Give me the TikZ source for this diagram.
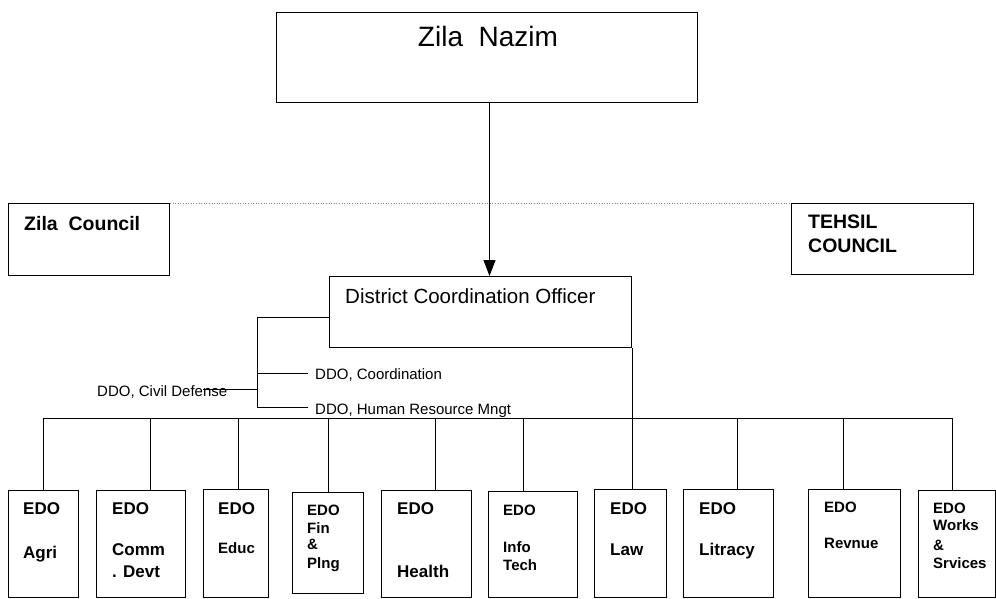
\documentclass[tikz,border=0pt]{standalone}
\usepackage{fontspec}
\setmainfont{Liberation Sans}
\usetikzlibrary{arrows.meta}
\begin{document}
\begin{tikzpicture}[x=1pt,y=-1pt,
  box/.style={draw, line width=1pt, inner sep=0pt, anchor=north west},
  link/.style={line width=0.9pt},
  lbl/.style={inner sep=0pt, anchor=base west},
  edo/.style={lbl, font=\bfseries\fontsize{17}{20}\selectfont},
  edos/.style={lbl, font=\bfseries\fontsize{15}{18}\selectfont},
  ddo/.style={lbl, font=\fontsize{15}{17}\selectfont},
]
\useasboundingbox (0,0) rectangle (996,598);

% top level boxes
\node[box, minimum width=421pt, minimum height=90pt] (nazim) at (276,12) {};
\node[box, minimum width=161pt, minimum height=72pt] (zc) at (8,203) {};
\node[box, minimum width=182pt, minimum height=71pt] (tc) at (791,203) {};
\node[box, minimum width=302pt, minimum height=71pt] (dco) at (329,276) {};

\node[inner sep=0pt, anchor=base, font=\fontsize{28}{30}\selectfont] (nazimt) at (488,46) {Zila~~Nazim};
\node[lbl, font=\bfseries\fontsize{19.5}{22}\selectfont] (zct) at (24,230) {Zila~~Council};
\node[lbl, font=\bfseries\fontsize{19.5}{22}\selectfont] (tct1) at (808,228) {TEHSIL};
\node[lbl, font=\bfseries\fontsize{19.5}{22}\selectfont] (tct2) at (808,252) {COUNCIL};
\node[lbl, font=\fontsize{20.5}{23}\selectfont] (dcot) at (345,303) {District Coordination Officer};

% EDO boxes
\node[box, minimum width=70pt, minimum height=106.5pt] (agri) at (8,490) {};
\node[box, minimum width=89pt, minimum height=106.5pt] (comm) at (96,490) {};
\node[box, minimum width=65pt, minimum height=107.5pt] (educ) at (203,489) {};
\node[box, minimum width=71pt, minimum height=101pt] (fin) at (292,492) {};
\node[box, minimum width=90pt, minimum height=106.5pt] (health) at (381,490) {};
\node[box, minimum width=89pt, minimum height=105.5pt] (info) at (488,491) {};
\node[box, minimum width=72pt, minimum height=107.5pt] (law) at (594,489) {};
\node[box, minimum width=90pt, minimum height=107.5pt] (litr) at (683,489) {};
\node[box, minimum width=92pt, minimum height=107.5pt] (rev) at (808,489) {};
\node[box, minimum width=77pt, minimum height=106.5pt] (works) at (918,490) {};

% EDO labels
\node[edo] (agri1) at (23,514) {EDO};
\node[edo] (agri2) at (23,558) {Agri};
\node[edo] (comm1) at (112,514) {EDO};
\node[edo] (comm2) at (112,555) {Comm};
\node[edo] (comm3) at (112,577) {. Devt};
\node[edo] (educ1) at (218,514) {EDO};
\node[edos] (educ2) at (218,553) {Educ};
\node[edos] (fin1) at (307,515) {EDO};
\node[edos] (fin2) at (307,533) {Fin};
\node[edos] (fin3) at (307,549) {\&};
\node[edos] (fin4) at (307,568) {Plng};
\node[edo] (health1) at (397,514) {EDO};
\node[edo] (health2) at (397,577) {Health};
\node[edos] (info1) at (503,515) {EDO};
\node[edos] (info2) at (503,552) {Info};
\node[edos] (info3) at (503,570) {Tech};
\node[edo] (law1) at (610,514) {EDO};
\node[edo] (law2) at (610,555) {Law};
\node[edo] (litr1) at (699,514) {EDO};
\node[edo] (litr2) at (699,555) {Litracy};
\node[edos] (rev1) at (824,512) {EDO};
\node[edos] (rev2) at (824,548) {Revnue};
\node[edos] (works1) at (933,513) {EDO};
\node[edos] (works2) at (933,530) {Works};
\node[edos] (works3) at (933,550) {\&};
\node[edos] (works4) at (933,568) {Srvices};

% DDO labels
\node[ddo] (ddoc) at (315,379) {DDO, Coordination};
\node[ddo] (ddocd) at (97,396) {DDO, Civil Defense};
\node[ddo] (ddoh) at (315,414) {DDO, Human Resource Mngt};

% connectors
\draw[link, -{Triangle[length=16pt,width=12pt]}] ([xshift=2.5pt]nazim.south) -- ([xshift=2.5pt]nazim.south |- dco.north);
\draw[gray, dotted, line width=0.6pt] (zc.north east) -- (tc.north west);

\coordinate (cl) at (257,317);
\coordinate (jc) at (257,373);
\coordinate (jd) at (257,389);
\coordinate (jh) at (257,407);
\coordinate (ec) at (308,373);
\coordinate (ed) at (203,389);
\coordinate (eh) at (308,407);
\draw[link] (dco.west |- cl) -- (cl) -- (jh) -- (eh);
\draw[link] (jc) -- (ec);
\draw[link] (jd) -- (ed);

% bus to the EDO boxes
\coordinate (busl) at (43,418);
\coordinate (busr) at (952,418);
\draw[link] (busl) -- (busr);
\foreach \n/\x in {agri/43, comm/150, educ/238, fin/328, health/435, info/523, litr/737, rev/843, works/952}
  \draw[link] (\x,418) -- (\n.north -| \x,0);
\draw[link] (dco.south east) -- (dco.south east |- law.north);
\end{tikzpicture}
\end{document}
